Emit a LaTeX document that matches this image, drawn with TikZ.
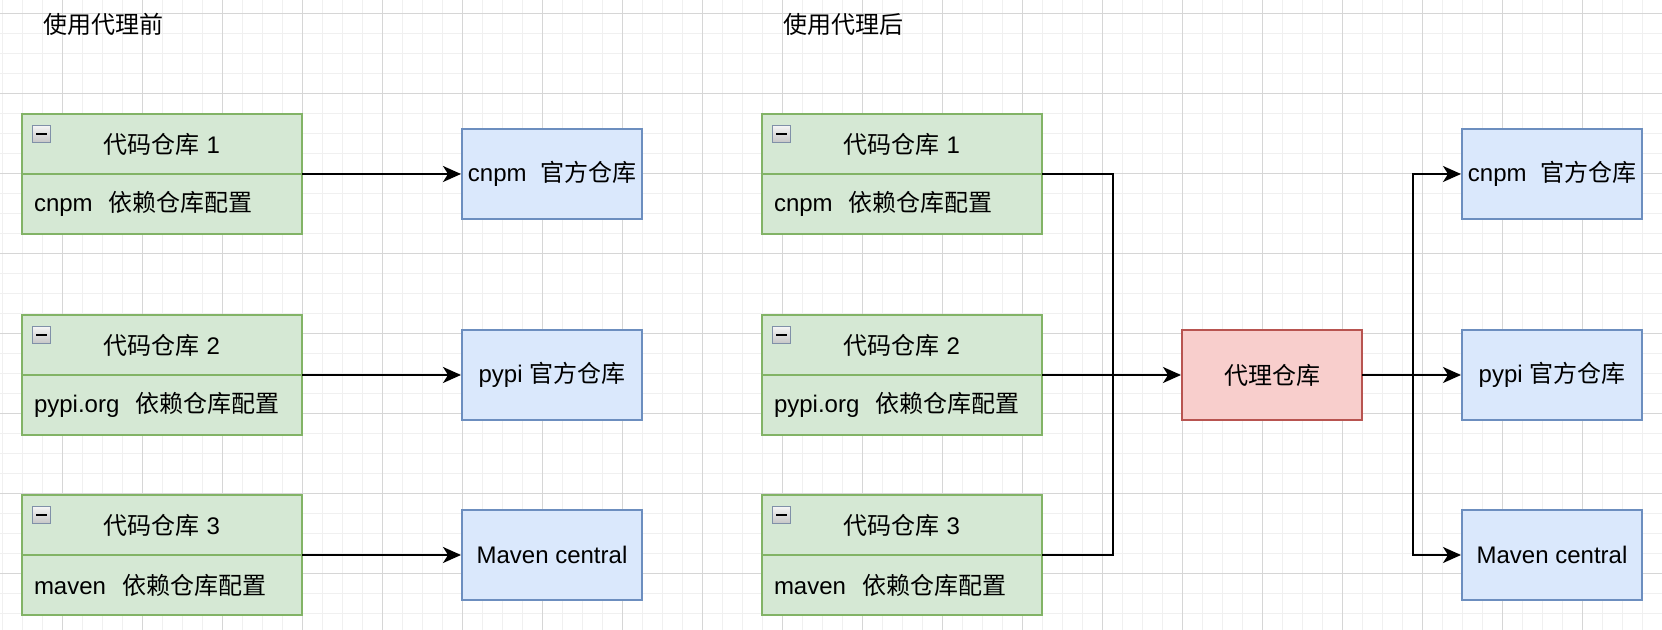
\documentclass[tikz,border=0pt]{standalone}
\usepackage{fontspec}
\setmainfont{Liberation Sans}
\newfontfamily\cjk{Noto Sans CJK SC}
\usetikzlibrary{arrows.meta}
\definecolor{gfill}{HTML}{D5E8D4}
\definecolor{gline}{HTML}{82B366}
\definecolor{bfill}{HTML}{DAE8FC}
\definecolor{bline}{HTML}{6C8EBF}
\definecolor{rfill}{HTML}{F8CECC}
\definecolor{rline}{HTML}{B85450}
\definecolor{gridmajor}{HTML}{D6D6D6}
\definecolor{gridminor}{HTML}{F0F0F0}
\definecolor{iconline}{HTML}{8090A8}
\tikzset{
  hdr/.style={draw=gline, fill=gfill, line width=1pt, minimum width=140pt, minimum height=30pt, inner sep=0pt, outer sep=0pt, font=\fontsize{12}{14}\selectfont},
  bodybox/.style={draw=gline, fill=gfill, line width=1pt, minimum width=140pt, minimum height=30pt, inner xsep=6pt, inner ysep=0pt, text width=128pt, align=left, font=\fontsize{12}{14}\selectfont},
  offbox/.style={draw=bline, fill=bfill, line width=1pt, minimum width=90pt, minimum height=45pt, inner sep=0pt, outer sep=0pt, font=\fontsize{12}{14}\selectfont},
  proxybox/.style={draw=rline, fill=rfill, line width=1pt, minimum width=90pt, minimum height=45pt, inner sep=0pt, outer sep=0pt, font=\fontsize{12}{14}\selectfont},
  minusicon/.style={draw=iconline, line width=0.6pt, top color=gray!8, bottom color=gray!45, minimum width=9pt, minimum height=8.5pt, inner sep=0pt, anchor=north west,
    path picture={\draw[black, line width=1.1pt] ([xshift=1.8pt]path picture bounding box.west) -- ([xshift=-1.8pt]path picture bounding box.east);}},
  titletext/.style={anchor=west, inner sep=0pt, font=\fontsize{12}{14}\selectfont\cjk},
  conn/.style={black, line width=1pt},
  arr/.style={conn, -{Stealth[length=9pt, width=8pt, inset=2.5pt]}, shorten >=0.5pt},
}
\begin{document}
\begin{tikzpicture}[x=0.5pt, y=-0.5pt]
\useasboundingbox (0,0) rectangle (1662,630);
\fill[white] (0,0) rectangle (1662,630);
% grid
\foreach \x in {2,22,...,1662} \draw[gridminor, line width=0.5pt] (\x,0) -- (\x,630);
\foreach \y in {14,34,...,630} \draw[gridminor, line width=0.5pt] (0,\y) -- (1662,\y);
\foreach \x in {62,142,...,1662} \draw[gridmajor, line width=0.5pt] (\x,0) -- (\x,630);
\foreach \y in {14,94,...,630} \draw[gridmajor, line width=0.5pt] (0,\y) -- (1662,\y);

% titles
\node[titletext] (tl) at (43,24) {使用代理前};
\node[titletext] (tr) at (783,24) {使用代理后};

% left side repos
\node[bodybox] (lb1) at (162,204) {cnpm~~{\cjk 依赖仓库配置}};
\node[hdr] (lh1) at (162,144) {{\cjk 代码仓库} 1};
\node[minusicon] (lm1) at ([shift={(10,11)}]lh1.north west) {};
\node[bodybox] (lb2) at (162,405) {pypi.org~~{\cjk 依赖仓库配置}};
\node[hdr] (lh2) at (162,345) {{\cjk 代码仓库} 2};
\node[minusicon] (lm2) at ([shift={(10,11)}]lh2.north west) {};
\node[bodybox] (lb3) at (162,585) {maven~~{\cjk 依赖仓库配置}};
\node[hdr] (lh3) at (162,525) {{\cjk 代码仓库} 3};
\node[minusicon] (lm3) at ([shift={(10,11)}]lh3.north west) {};

% left side official
\node[offbox] (lo1) at (552,174) {cnpm~~{\cjk 官方仓库}};
\node[offbox] (lo2) at (552,375) {pypi {\cjk 官方仓库}};
\node[offbox] (lo3) at (552,555) {Maven central};

\draw[arr] (lh1.south east) -- (lo1.west);
\draw[arr] (lh2.south east) -- (lo2.west);
\draw[arr] (lh3.south east) -- (lo3.west);

% right side repos
\node[bodybox] (rb1) at (902,204) {cnpm~~{\cjk 依赖仓库配置}};
\node[hdr] (rh1) at (902,144) {{\cjk 代码仓库} 1};
\node[minusicon] (rm1) at ([shift={(10,11)}]rh1.north west) {};
\node[bodybox] (rb2) at (902,405) {pypi.org~~{\cjk 依赖仓库配置}};
\node[hdr] (rh2) at (902,345) {{\cjk 代码仓库} 2};
\node[minusicon] (rm2) at ([shift={(10,11)}]rh2.north west) {};
\node[bodybox] (rb3) at (902,585) {maven~~{\cjk 依赖仓库配置}};
\node[hdr] (rh3) at (902,525) {{\cjk 代码仓库} 3};
\node[minusicon] (rm3) at ([shift={(10,11)}]rh3.north west) {};

\node[proxybox] (px) at (1272,375) {\cjk 代理仓库};

\node[offbox] (ro1) at (1552,174) {cnpm~~{\cjk 官方仓库}};
\node[offbox] (ro2) at (1552,375) {pypi {\cjk 官方仓库}};
\node[offbox] (ro3) at (1552,555) {Maven central};

\coordinate (jl) at (1113,375);
\coordinate (jr) at (1413,375);

\draw[conn] (rh1.south east) -| (jl);
\draw[conn] (rh3.south east) -| (jl);
\draw[arr] (rh2.south east) -- (px.west);

\draw[conn] (px.east) -- (jr);
\draw[arr] (jr) |- (ro1.west);
\draw[arr] (jr) -- (ro2.west);
\draw[arr] (jr) |- (ro3.west);
\end{tikzpicture}
\end{document}
